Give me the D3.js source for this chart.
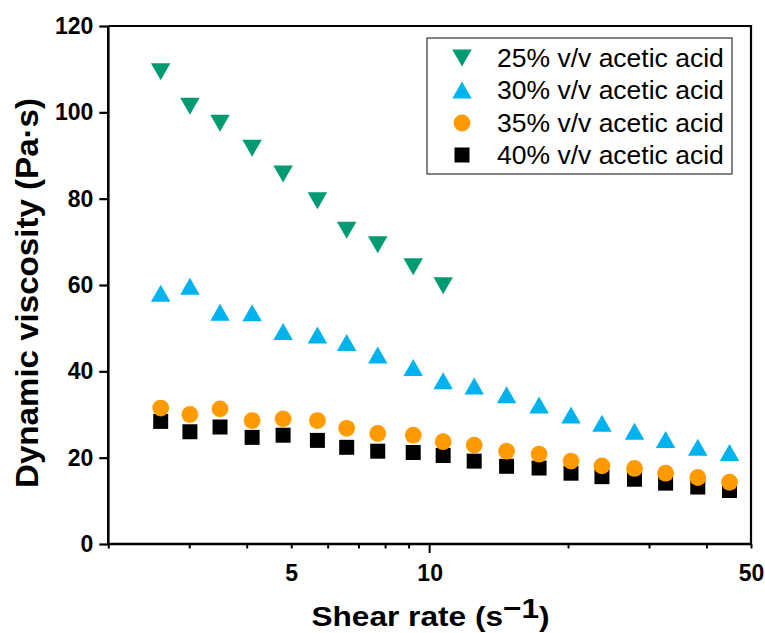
<!DOCTYPE html>
<html><head><meta charset="utf-8">
<script src="https://cdn.jsdelivr.net/npm/d3@7"></script>
<style>body{margin:0;background:#fff}svg{display:block;font-family:"Liberation Sans",Arial,sans-serif}</style>
</head><body>
<script>
const shearRate = [2.60,3.01,3.50,4.11,4.80,5.70,6.60,7.71,9.21,10.7,12.5,14.7,17.3,20.3,23.7,27.9,32.6,38.3,44.9];
const visc25 = [109.4,101.4,97.5,91.7,85.7,79.5,72.7,69.3,64.2,59.8];
const visc30 = [58.1,59.7,53.7,53.6,49.2,48.4,46.7,43.8,40.9,37.8,36.6,34.6,32.2,29.9,28.0,26.1,24.2,22.4,21.2];
const visc35 = [31.5,30.0,31.3,28.6,29.0,28.6,26.8,25.6,25.2,23.7,22.9,21.5,20.8,19.2,18.1,17.5,16.4,15.4,14.3];
const visc40 = [28.4,26.0,27.1,24.7,25.2,24.0,22.4,21.5,21.2,20.5,19.2,18.0,17.6,16.4,15.6,15.0,14.1,13.2,12.4];
const seriesNames = ["25% v/v acetic acid","30% v/v acetic acid","35% v/v acetic acid","40% v/v acetic acid"];
const seriesColors = ["#009B72","#00B2EE","#FF9B00","#000000"];
const seriesShapes = ["down","up","circle","square"];
const yTicks = [0,20,40,60,80,100,120];
const xTickLabels = [5,10,50];
const xMinorTicks = [2,3,4,5,6,7,8,9,20,30,40,50];

(function(){
const W=765,H=633;
const pLeft=108.3,pRight=751,pTop=26,pBottom=544;
const svg=d3.select("body").append("svg").attr("width",W).attr("height",H);
const x=d3.scaleLog().domain([2,50]).range([pLeft,pRight]);
const y=d3.scaleLinear().domain([0,120]).range([pBottom,pTop]);

function shapePath(s){
  if(s==="down"){const w=19.5,h=17;return `M${-w/2},${-h/2}L${w/2},${-h/2}L0,${h/2}Z`;}
  if(s==="up"){const w=19.5,h=17;return `M${-w/2},${h/2}L${w/2},${h/2}L0,${-h/2}Z`;}
  if(s==="circle"){const r=8.4;return `M${r},0A${r},${r} 0 1,1 ${-r},0A${r},${r} 0 1,1 ${r},0Z`;}
  const a=7.5;return `M${-a},${-a}H${a}V${a}H${-a}Z`;
}

svg.append("path").attr("d",`M${pLeft},${pTop}H${pRight}V${pBottom}`).attr("fill","none").attr("stroke","#000").attr("stroke-width",2.2);

const yAxis=svg.append("g").attr("transform",`translate(${pLeft},0)`)
  .call(d3.axisLeft(y).tickValues(yTicks).tickSize(9).tickPadding(6).tickFormat(d3.format("d")));
yAxis.select(".domain").attr("stroke-width",2.6).attr("d",`M0,${pBottom}V${pTop}`);
yAxis.selectAll(".tick line").attr("stroke-width",2.2);
yAxis.selectAll(".tick text").attr("font-size",23).attr("font-weight","bold").attr("font-family","Liberation Sans, Arial").attr("fill","#000");

const xAxis=svg.append("g").attr("transform",`translate(0,${pBottom})`)
  .call(d3.axisBottom(x).tickValues(xMinorTicks).tickSize(4.5).tickFormat(()=>""));
xAxis.select(".domain").attr("stroke-width",2.6).attr("d",`M${pLeft},0H${pRight}`);
xAxis.selectAll(".tick line").attr("stroke-width",2);
const xAxisMajor=svg.append("g").attr("transform",`translate(0,${pBottom})`)
  .call(d3.axisBottom(x).tickValues(xTickLabels).tickSize(0).tickPadding(21).tickFormat(d3.format("d")));
xAxisMajor.select(".domain").remove();
xAxisMajor.selectAll(".tick text").attr("font-size",23).attr("font-weight","bold").attr("font-family","Liberation Sans, Arial").attr("fill","#000");
svg.append("line").attr("x1",x(10)).attr("x2",x(10)).attr("y1",pBottom).attr("y2",pBottom+9).attr("stroke","#000").attr("stroke-width",2);

svg.append("text").attr("transform",`translate(38,293) rotate(-90)`).attr("text-anchor","middle")
  .attr("font-size",32).attr("font-weight","bold")
  .attr("textLength",390).attr("lengthAdjust","spacingAndGlyphs").text("Dynamic viscosity (Pa·s)");
const xt=svg.append("text").attr("transform","translate(430.5,626) scale(1.13,1)").attr("text-anchor","middle").attr("font-size",28).attr("font-weight","bold");
xt.append("tspan").text("Shear rate (s");
xt.append("tspan").attr("dy",-8).text("−1");
xt.append("tspan").attr("dy",8).text(")");

const allSeries=[visc25,visc30,visc35,visc40];
[3,2,1,0].forEach(i=>{
  svg.append("g").selectAll("path").data(allSeries[i]).join("path")
    .attr("transform",(d,j)=>`translate(${x(shearRate[j])},${y(d)})`)
    .attr("d",shapePath(seriesShapes[i])).attr("fill",seriesColors[i]);
});

const lg=svg.append("g");
lg.append("rect").attr("x",427).attr("y",38).attr("width",305).attr("height",136).attr("fill","#fff").attr("stroke","#333").attr("stroke-width",1.2);
const rowsY=[58,90,123,155];
seriesNames.forEach((n,i)=>{
  lg.append("path").attr("transform",`translate(462,${rowsY[i]})`).attr("d",shapePath(seriesShapes[i])).attr("fill",seriesColors[i]);
  lg.append("text").attr("x",497).attr("y",rowsY[i]).attr("dy","0.35em").attr("font-size",26.5).attr("fill","#000").text(n);
});
})();
</script>
</body></html>
